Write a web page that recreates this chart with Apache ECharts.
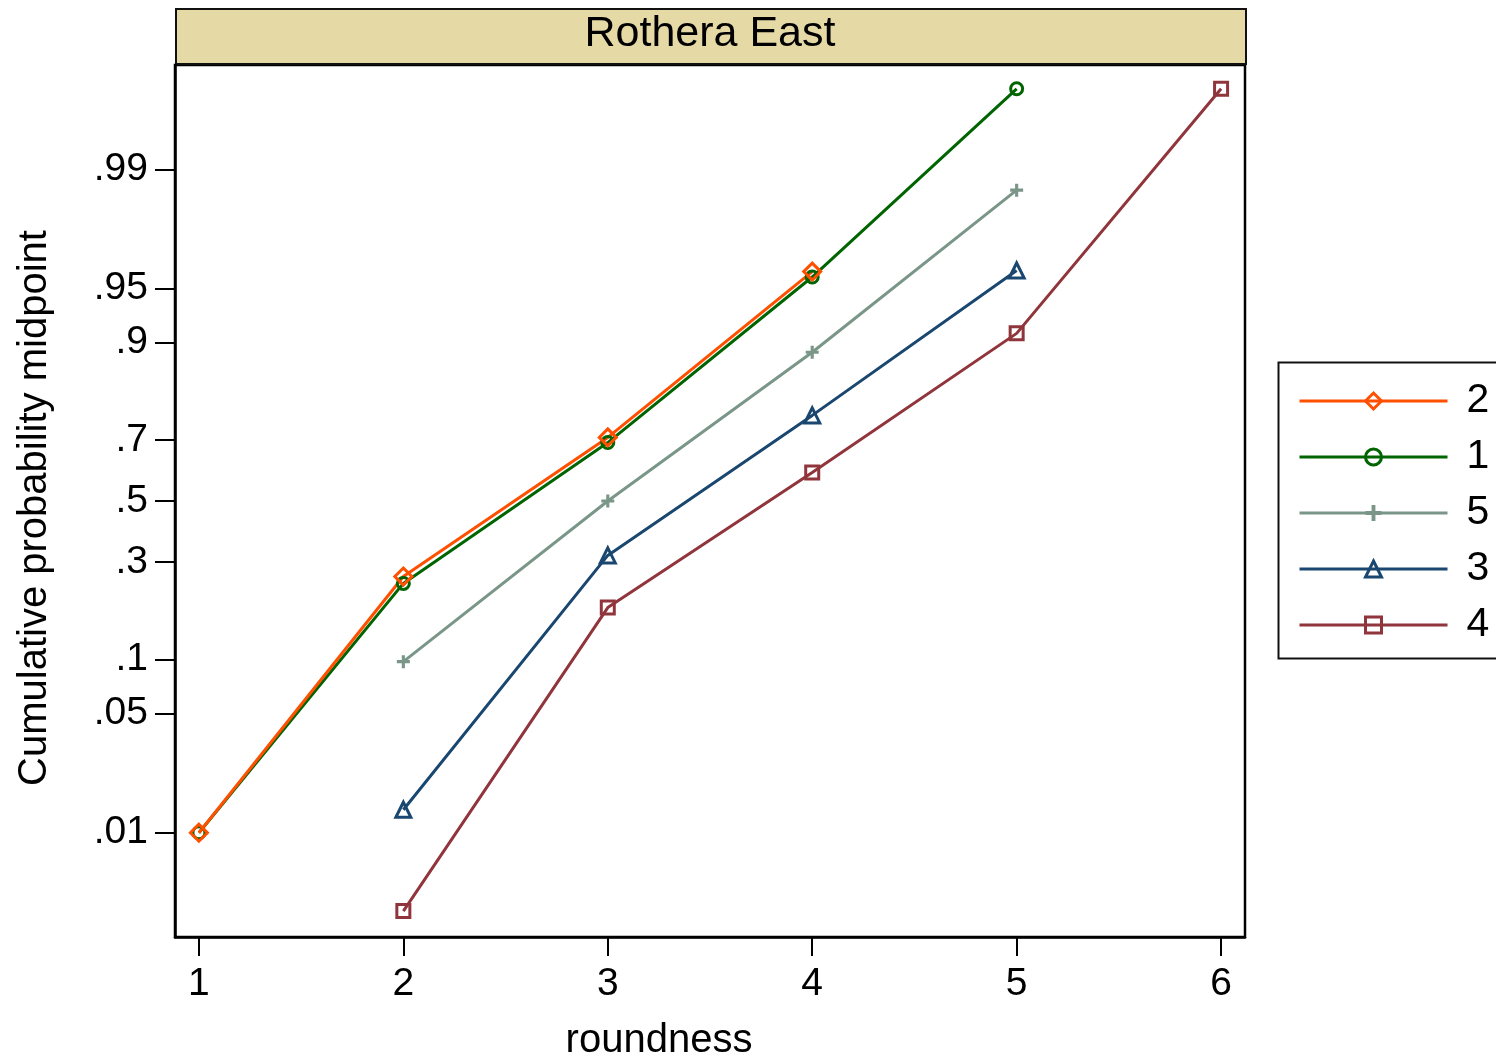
<!DOCTYPE html>
<html>
<head>
<meta charset="utf-8">
<script src="https://cdn.jsdelivr.net/npm/echarts@6/dist/echarts.min.js"></script>
<style>
  html, body { margin: 0; padding: 0; background: #fff; }
  #chart { width: 1496px; height: 1064px; }
</style>
</head>
<body>
<div id="chart"></div>
<script>
// cumulative probability midpoints by roundness, one array per group
var groupNames = ['2', '1', '5', '3', '4'];
var x2 = [1, 2, 3, 4];
var p2 = [0.01, 0.26, 0.707, 0.96];
var x1 = [1, 2, 3, 4, 5];
var p1 = [0.01, 0.242, 0.692, 0.957, 0.9967];
var x5 = [2, 3, 4, 5];
var p5 = [0.0975, 0.5, 0.887, 0.9867];
var x3 = [2, 3, 4, 5];
var p3 = [0.0137, 0.32, 0.766, 0.9606];
var x4 = [2, 3, 4, 5, 6];
var p4 = [0.0034, 0.186, 0.5975, 0.9107, 0.9967];

var yTicks = [0.01, 0.05, 0.1, 0.3, 0.5, 0.7, 0.9, 0.95, 0.99];
var yTickLabels = ['.01', '.05', '.1', '.3', '.5', '.7', '.9', '.95', '.99'];
var xTicks = [1, 2, 3, 4, 5, 6];

function logit(p) { return Math.log(p / (1 - p)); }
function pairs(xs, ps) {
    return xs.map(function (x, i) { return [x, logit(ps[i])]; });
}

var FONT = '"Liberation Sans", Arial, Helvetica, sans-serif';
var plusPath = 'path://M3.8,0H6.2V3.8H10V6.2H6.2V10H3.8V6.2H0V3.8H3.8Z';

function mkSeries(name, data, color, symbol, size, hollow) {
    return {
        name: name,
        type: 'line',
        data: data,
        symbol: symbol,
        symbolSize: size,
        showAllSymbol: true,
        lineStyle: { color: color, width: 3 },
        itemStyle: hollow
            ? { color: 'rgba(255,255,255,0)', borderColor: color, borderWidth: 3 }
            : { color: color, borderWidth: 0 },
        emphasis: { disabled: true },
        animation: false
    };
}

var yLogits = yTicks.map(logit);

var myChart = echarts.init(document.getElementById('chart'));
var option = {
    backgroundColor: '#ffffff',
    textStyle: { fontFamily: FONT },
    grid: { left: 175, right: 251, top: 65, bottom: 127, show: true, borderColor: '#000', borderWidth: 2.5, backgroundColor: '#fff' },
    graphic: [
        {   // title strip
            type: 'rect', left: 175, top: 8,
            shape: { width: 1070, height: 55 },
            style: { fill: '#e5d9a5', stroke: '#111', lineWidth: 2 }
        },
        {
            type: 'text', x: 710, y: 34,
            style: { text: 'Rothera East', font: '43px ' + FONT, fill: '#000', align: 'center', verticalAlign: 'middle' }
        },
        {   // x axis title sits left of the plot centre in the original
            type: 'text', x: 659, y: 1041,
            style: { text: 'roundness', font: '40px ' + FONT, fill: '#000', align: 'center', verticalAlign: 'middle' }
        },
        {   // legend box
            type: 'rect', left: 1276, top: 360,
            shape: { width: 240, height: 296 },
            style: { fill: 'none', stroke: '#111', lineWidth: 2 }
        }
    ],
    legend: {
        data: groupNames,
        orient: 'vertical',
        left: 1293,
        top: 375,
        itemWidth: 148,
        itemHeight: 20,
        itemGap: 14,
        lineStyle: { width: 3 },
        itemStyle: { borderWidth: 3 },
        textStyle: { fontSize: 41, lineHeight: 42, color: '#000', fontFamily: FONT, padding: [0, 0, 0, 14] },
        selectedMode: false
    },
    xAxis: {
        type: 'value',
        min: 0.883,
        max: 6.117,
        axisLine: { show: true, onZero: false, lineStyle: { color: '#000', width: 2.5 } },
        axisTick: { show: true, length: 19, customValues: xTicks, lineStyle: { color: '#000', width: 2 } },
        axisLabel: { customValues: xTicks, fontSize: 39, color: '#000', margin: 28, fontFamily: FONT },
        splitLine: { show: false }
    },
    yAxis: {
        type: 'value',
        min: -6.04,
        max: 6.04,
        name: 'Cumulative probability midpoint',
        nameLocation: 'middle',
        nameRotate: 90,
        nameGap: 120,
        nameTextStyle: { fontSize: 40, color: '#000', fontFamily: FONT, padding: [0, 14, 0, 0] },
        axisLine: { show: true, onZero: false, lineStyle: { color: '#000', width: 2.5 } },
        axisTick: { show: true, length: 20, customValues: yLogits, lineStyle: { color: '#000', width: 2 } },
        axisLabel: {
            customValues: yLogits,
            fontSize: 39,
            color: '#000',
            margin: 27,
            fontFamily: FONT,
            formatter: function (v) {
                var best = 0;
                for (var i = 1; i < yLogits.length; i++) {
                    if (Math.abs(yLogits[i] - v) < Math.abs(yLogits[best] - v)) best = i;
                }
                return yTickLabels[best];
            }
        },
        splitLine: { show: false }
    },
    series: [
        mkSeries('4', pairs(x4, p4), '#90353b', 'rect', 13, true),
        mkSeries('3', pairs(x3, p3), '#1a476f', 'triangle', 15, true),
        mkSeries('5', pairs(x5, p5), '#7a9688', plusPath, 13, false),
        mkSeries('1', pairs(x1, p1), '#006400', 'circle', 12, true),
        mkSeries('2', pairs(x2, p2), '#ff4f00', 'diamond', 17, true)
    ]
};
myChart.setOption(option);
</script>
</body>
</html>
